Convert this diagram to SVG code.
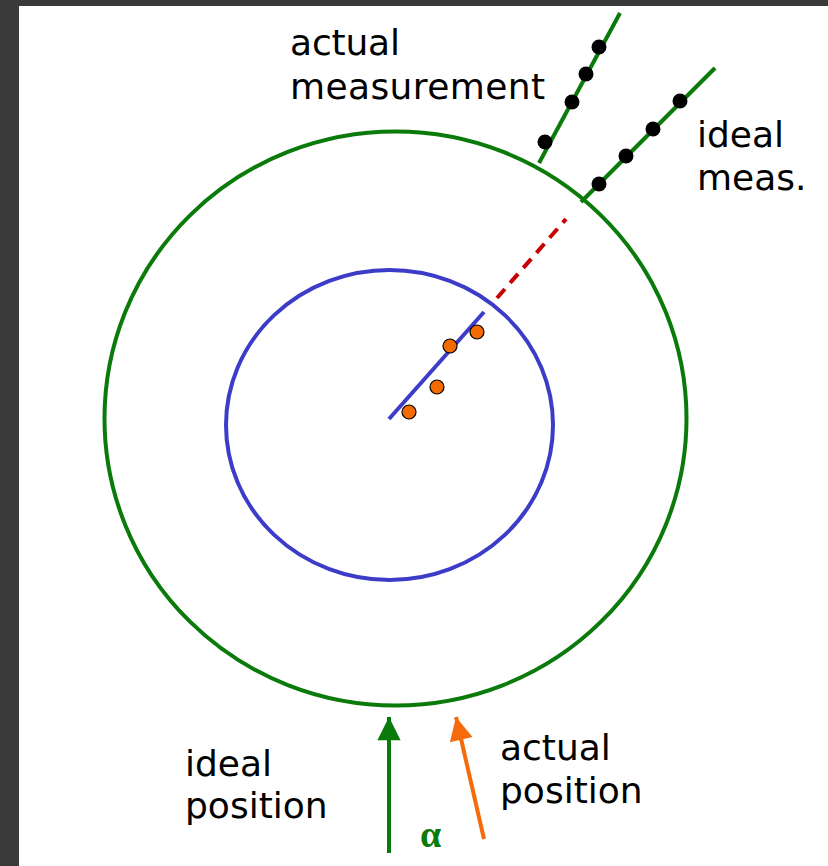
<svg xmlns="http://www.w3.org/2000/svg" width="828" height="866" viewBox="0 0 828 866">
<defs>
<style>
.lbl{font-family:"DejaVu Sans","Liberation Sans",sans-serif;font-size:36px;fill:#000}
.gl{stroke:#0a7a0a;stroke-width:4;fill:none}
.bd{fill:#000}
.od{fill:#f26a00;stroke:#000;stroke-width:1.2}
</style>
<marker id="ga" viewBox="0 0 10 10" refX="10" refY="5" markerWidth="6.2" markerHeight="5.8" markerUnits="strokeWidth" orient="auto"><path d="M0,0L10,5L0,10z" fill="#0a7a0a"/></marker>
<marker id="oa" viewBox="0 0 10 10" refX="10" refY="5" markerWidth="6.2" markerHeight="5.8" markerUnits="strokeWidth" orient="auto"><path d="M0,0L10,5L0,10z" fill="#f56a0a"/></marker>
</defs>
<rect width="828" height="866" fill="#3a3a3a"/>
<rect x="19" y="6" width="809" height="860" fill="#fff"/>
<g id="outer-circle"><ellipse cx="395.5" cy="418.5" rx="291" ry="287" class="gl"/></g>
<g id="inner-circle"><ellipse cx="389.5" cy="425" rx="163.5" ry="155" fill="none" stroke="#3c3cc8" stroke-width="4"/></g>
<g id="fit-line">
<line x1="389" y1="419" x2="484" y2="312" stroke="#3c3cc8" stroke-width="4"/>
<circle cx="409" cy="412" r="7" class="od"/>
<circle cx="437" cy="387" r="7" class="od"/>
<circle cx="450" cy="346" r="7" class="od"/>
<circle cx="477" cy="332" r="7" class="od"/>
</g>
<g id="actual-measurement">
<line x1="539" y1="163" x2="620" y2="13" class="gl"/>
<circle cx="599" cy="47" r="7.5" class="bd"/>
<circle cx="586" cy="74" r="7.5" class="bd"/>
<circle cx="572" cy="102" r="7.5" class="bd"/>
<circle cx="545" cy="142" r="7.5" class="bd"/>
</g>
<g id="ideal-meas">
<line x1="581" y1="202" x2="715" y2="68" class="gl"/>
<circle cx="680" cy="101" r="7.5" class="bd"/>
<circle cx="653" cy="129" r="7.5" class="bd"/>
<circle cx="626" cy="156" r="7.5" class="bd"/>
<circle cx="599" cy="184" r="7.5" class="bd"/>
</g>
<g id="connectors">
<line x1="497" y1="298" x2="566" y2="219" stroke="#c80000" stroke-width="4" stroke-dasharray="12,8"/>
<line x1="389" y1="853" x2="389" y2="717" stroke="#0a7a0a" stroke-width="4" marker-end="url(#ga)"/>
<line x1="484" y1="839" x2="456" y2="717" stroke="#f56a0a" stroke-width="4" marker-end="url(#oa)"/>
</g>
<g id="labels">
<text class="lbl" x="290" y="55" textLength="110">actual</text>
<text class="lbl" x="290" y="99" textLength="255">measurement</text>
<text class="lbl" x="697" y="147">ideal</text>
<text class="lbl" x="697" y="190">meas.</text>
<text class="lbl" x="185" y="776">ideal</text>
<text class="lbl" x="185" y="818">position</text>
<text class="lbl" x="500" y="760">actual</text>
<text class="lbl" x="500" y="803">position</text>
<text x="420" y="847" font-family="Liberation Serif,serif" font-size="38" font-weight="bold" fill="#0a7a0a">α</text>
</g>
</svg>
